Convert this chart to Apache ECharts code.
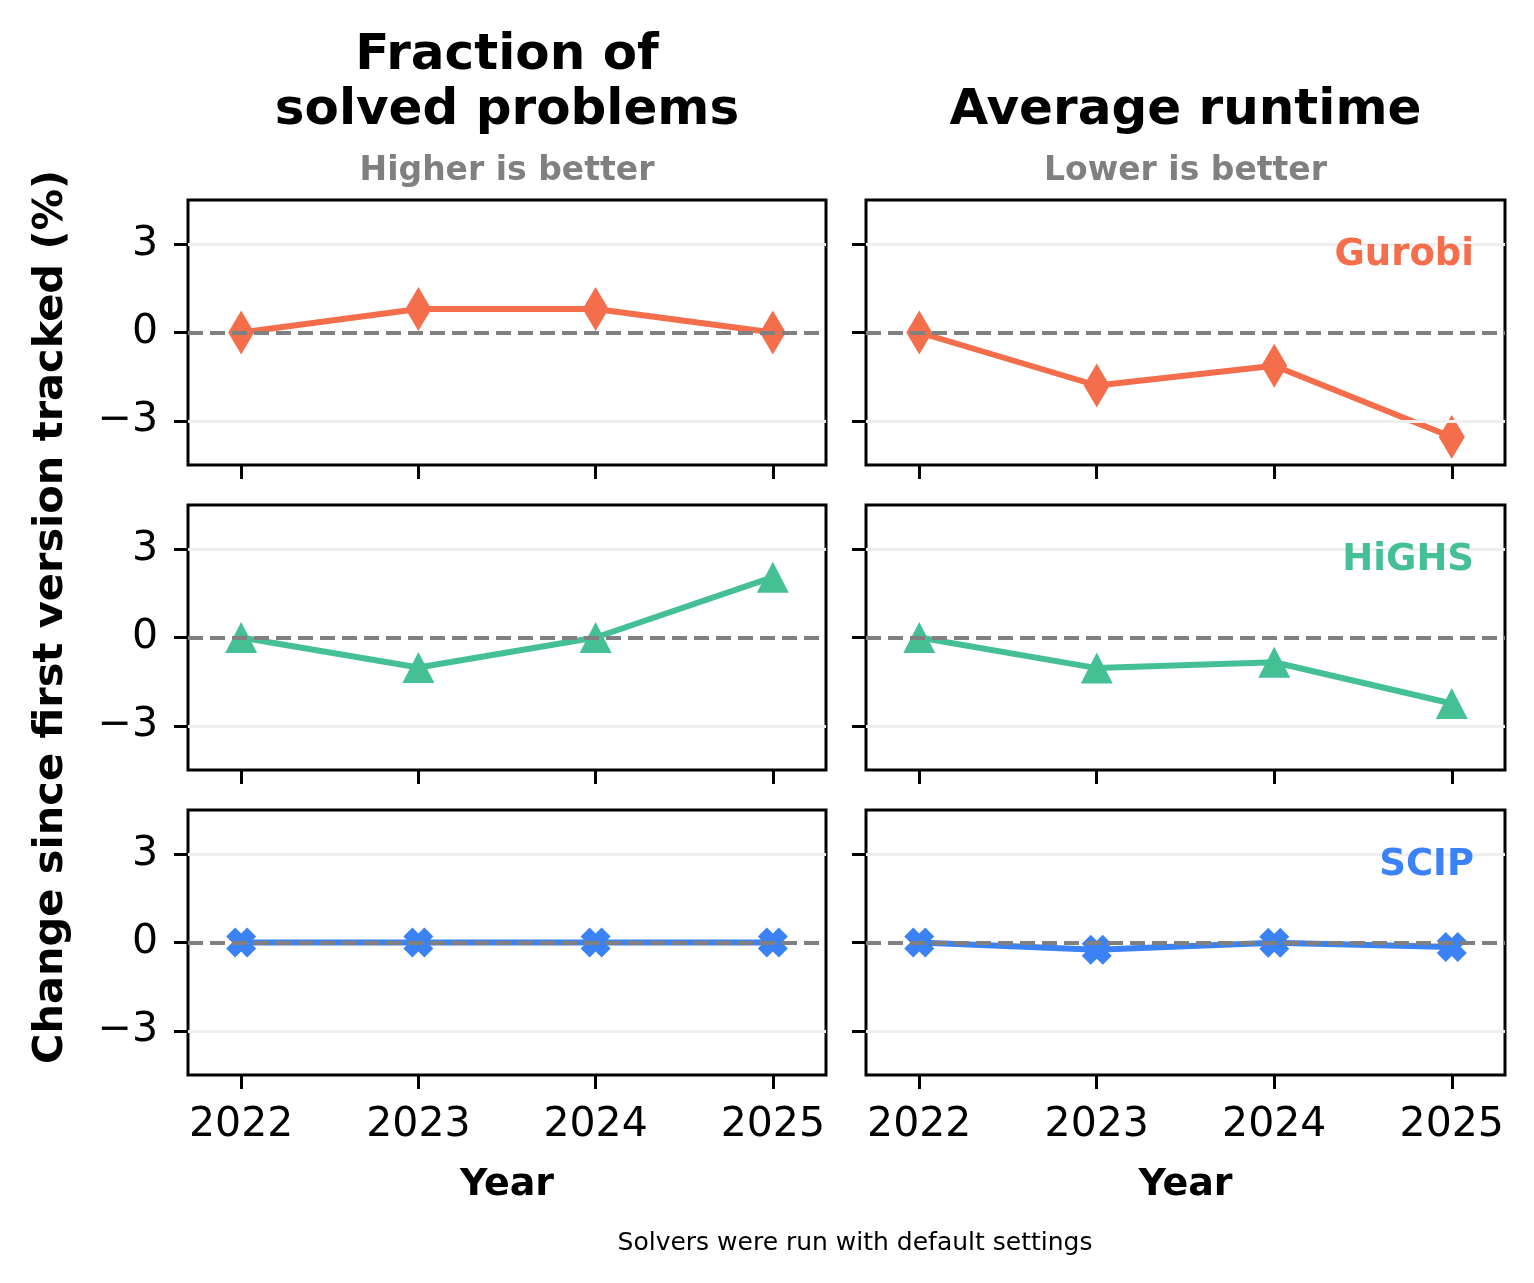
<!DOCTYPE html>
<html>
<head>
<meta charset="utf-8">
<script src="https://cdn.jsdelivr.net/npm/echarts@6/dist/echarts.min.js"></script>
<style>
html,body{margin:0;padding:0;background:#fff;}
#chart{width:1534px;height:1283px;}
</style>
</head>
<body>
<div id="chart"></div>
<script>
// ---- data ----
var years = [2022, 2023, 2024, 2025];
var solvers = ['Gurobi', 'HiGHS', 'SCIP'];
var gurobiSolved = [0, 0.8, 0.8, 0];
var gurobiRuntime = [0, -1.8, -1.13, -3.55];
var highsSolved = [0, -1.02, 0, 2.05];
var highsRuntime = [0, -1.04, -0.84, -2.24];
var scipSolved = [0, 0, 0, 0];
var scipRuntime = [0, -0.25, -0.01, -0.15];
var yTicks = [-3, 0, 3];
var colTitles = [['Fraction of', 'solved problems'], ['Average runtime']];
var colSubtitles = ['Higher is better', 'Lower is better'];
var yLabel = 'Change since first version tracked (%)';
var xLabel = 'Year';
var footnote = 'Solvers were run with default settings';

var solverColors = ['#F46E4C', '#45C095', '#3B82F6'];
var xShape = 'path://M3,0 L5,2 L7,0 L10,3 L8,5 L10,7 L7,10 L5,8 L3,10 L0,7 L2,5 L0,3 Z';
var symbols = [['diamond', [26, 44]], ['triangle', [32, 31]], [xShape, [30, 30]]];
var seriesData = [[gurobiSolved, gurobiRuntime], [highsSolved, highsRuntime], [scipSolved, scipRuntime]];

var FONT = 'DejaVu Sans';
var colLeft = [188, 866];
var colWidth = [638, 639];
var rowTop = [200, 505, 810];
var rowH = 265;

var grids = [], xAxes = [], yAxes = [], series = [], graphics = [];

function fmt(v) { return v < 0 ? '\u2212' + Math.abs(v) : String(v); }

var idx = 0;
for (var r = 0; r < 3; r++) {
  for (var c = 0; c < 2; c++) {
    grids.push({
      left: colLeft[c], top: rowTop[r], width: colWidth[c], height: rowH,
      show: true, borderColor: '#000', borderWidth: 3, backgroundColor: 'transparent'
    });
    xAxes.push({
      type: 'value', gridIndex: idx, min: 2021.7, max: 2025.3, position: 'bottom',
      axisLine: { show: false, onZero: false },
      axisTick: { show: true, customValues: years, length: 14, inside: false, lineStyle: { color: '#000', width: 3 } },
      axisLabel: { show: r === 2, customValues: years, fontSize: 41, fontFamily: FONT, color: '#000', margin: 30,
        formatter: function (v) { return String(v); } },
      splitLine: { show: false }
    });
    yAxes.push({
      type: 'value', gridIndex: idx, min: -4.5, max: 4.5, position: 'left',
      axisLine: { show: false, onZero: false },
      axisTick: { show: true, customValues: yTicks, length: 14, inside: false, lineStyle: { color: '#000', width: 3 } },
      axisLabel: { show: c === 0, customValues: yTicks, fontSize: 41, fontFamily: FONT, color: '#000', margin: 30,
        formatter: fmt },
      splitLine: { show: false }
    });
    // reference lines
    series.push({
      type: 'line', xAxisIndex: idx, yAxisIndex: idx, data: [], z: 1, silent: true,
      markLine: {
        silent: true, symbol: 'none', label: { show: false }, animation: false,
        data: [
          { yAxis: yTicks[2], lineStyle: { color: '#EFEFEF', width: 3, type: 'solid' } },
          { yAxis: yTicks[0], lineStyle: { color: '#EFEFEF', width: 3, type: 'solid' } },
          { yAxis: 0, lineStyle: { color: '#808080', width: 4.2, type: [15, 7] } }
        ]
      }
    });
    var vals = seriesData[r][c];
    var pts = years.map(function (y, i) { return [y, vals[i]]; });
    series.push({
      type: 'line', name: solvers[r], xAxisIndex: idx, yAxisIndex: idx, z: 3,
      data: pts, symbol: symbols[r][0], symbolSize: symbols[r][1], symbolKeepAspect: false,
      showAllSymbol: true,
      lineStyle: { color: solverColors[r], width: 6 },
      itemStyle: { color: solverColors[r], borderWidth: 0 },
      animation: false
    });
    idx++;
  }
  // solver label in right panel
  graphics.push({
    type: 'text', x: 1474, y: rowTop[r] + 55, z: 10,
    style: { text: solvers[r], fill: solverColors[r], font: 'bold 37px "' + FONT + '"', align: 'right', verticalAlign: 'middle' }
  });
}

var colCenters = [colLeft[0] + colWidth[0] / 2, colLeft[1] + colWidth[1] / 2];
// column titles
graphics.push({ type: 'text', x: colCenters[0], y: 56, style: { text: colTitles[0][0], fill: '#000', font: 'bold 50px "' + FONT + '"', align: 'center', verticalAlign: 'middle' } });
graphics.push({ type: 'text', x: colCenters[0], y: 111, style: { text: colTitles[0][1], fill: '#000', font: 'bold 50px "' + FONT + '"', align: 'center', verticalAlign: 'middle' } });
graphics.push({ type: 'text', x: colCenters[1], y: 111, style: { text: colTitles[1][0], fill: '#000', font: 'bold 50px "' + FONT + '"', align: 'center', verticalAlign: 'middle' } });
for (var k = 0; k < 2; k++) {
  graphics.push({ type: 'text', x: colCenters[k], y: 171, style: { text: colSubtitles[k], fill: '#808080', font: 'bold 33px "' + FONT + '"', align: 'center', verticalAlign: 'middle' } });
  graphics.push({ type: 'text', x: colCenters[k], y: 1185, style: { text: xLabel, fill: '#000', font: 'bold 38px "' + FONT + '"', align: 'center', verticalAlign: 'middle' } });
}
graphics.push({ type: 'text', x: 51, y: 617, rotation: Math.PI / 2, style: { text: yLabel, fill: '#000', font: 'bold 41.5px "' + FONT + '"', align: 'center', verticalAlign: 'middle' } });
graphics.push({ type: 'text', x: 855, y: 1243, style: { text: footnote, fill: '#000', font: '25px "' + FONT + '"', align: 'center', verticalAlign: 'middle' } });

var chart = echarts.init(document.getElementById('chart'), null, { renderer: 'canvas' });
chart.setOption({
  backgroundColor: '#fff',
  animation: false,
  grid: grids,
  xAxis: xAxes,
  yAxis: yAxes,
  series: series,
  graphic: graphics
});
</script>
</body>
</html>
